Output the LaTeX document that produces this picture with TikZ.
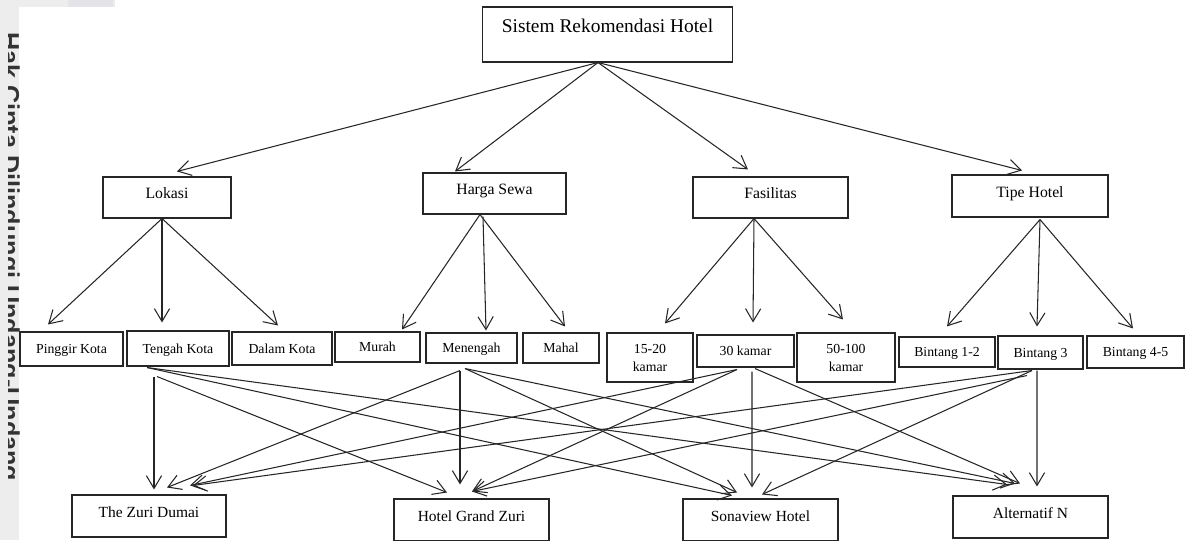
\documentclass[tikz,border=0pt]{standalone}
\usepackage{fontspec}
\setmainfont{Liberation Serif}
\newfontfamily\markfont{Liberation Sans}
\usepackage{tikz}
\usetikzlibrary{arrows.meta, calc}
\definecolor{lineGray}{rgb}{0.15, 0.15, 0.15}
\definecolor{stripGray}{rgb}{0.93, 0.93, 0.93}
\definecolor{patchGray}{rgb}{0.89, 0.89, 0.91}
\tikzset{
	box/.style={draw=lineGray, line width=0.75pt, inner sep=0pt, align=center},
	sz/.style 2 args={minimum width=#1*0.025cm, minimum height=#2*0.025cm},
	topfont/.style={font=\fontsize{13.8}{16}\selectfont, text height=10.4pt, text depth=12.6pt},
	catfont/.style={font=\fontsize{11.2}{13}\selectfont, text height=8.3pt, text depth=6.8pt},
	subfont/.style={font=\fontsize{9.8}{12.8}\selectfont, text height=7.4pt, text depth=0.9pt},
	twofont/.style={font=\fontsize{9.8}{12.8}\selectfont},
	altfont/.style={font=\fontsize{11}{13}\selectfont, text height=8.2pt, text depth=6.7pt},
	arr/.style={draw=lineGray, line width=0.75pt, -{Straight Barb[length=3.2mm, width=3.8mm]}}
}

\begin{document}
\begin{tikzpicture}[x=0.025cm, y=-0.025cm]

	\useasboundingbox (0,0) rectangle (1185,540);

	% page edge with watermark
	\fill[stripGray] (0,0) rectangle (19,540);
	\fill[stripGray] (0,0) rectangle (115,7);
	\fill[patchGray] (68,0) rectangle (113,7);
	\begin{scope}
		\clip (8,0) rectangle (19,540);
		\node[anchor=base west, rotate=-90, inner sep=0pt, text=black!80, font=\markfont\bfseries\fontsize{17.9}{21}\selectfont] (mark) at (1.5,32) {Hak Cipta Dilindungi Undang-Undang};
	\end{scope}

	\node[box, sz={250}{55}, topfont] (top) at (607.5,34.5) {Sistem Rekomendasi Hotel};

	\node[box, sz={128}{41}, catfont] (lok) at (167,197.5) {Lokasi};
	\node[box, sz={143}{41}, catfont] (harga) at (494.5,193.5) {Harga Sewa};
	\node[box, sz={155}{41}, catfont] (fas) at (770.5,197.5) {Fasilitas};
	\node[box, sz={156}{42}, catfont] (tipe) at (1030,196) {Tipe Hotel};

	\node[box, sz={103}{34}, subfont] (pinggir) at (71.5,349) {Pinggir Kota};
	\node[box, sz={102}{35}, subfont] (tengah) at (178,348.5) {Tengah Kota};
	\node[box, sz={100}{33}, subfont] (dalam) at (282,348.5) {Dalam Kota};
	\node[box, sz={85}{30}, subfont] (murah) at (377.5,347) {Murah};
	\node[box, sz={91}{30}, subfont] (menengah) at (471.5,348) {Menengah};
	\node[box, sz={76}{30}, subfont] (mahal) at (561,348) {Mahal};
	\node[box, sz={86}{49}, twofont] (kamarA) at (650,357.5) {15-20\\kamar};
	\node[box, sz={97}{32}, subfont] (kamarB) at (745.5,351) {30 kamar};
	\node[box, sz={98}{49}, twofont] (kamarC) at (846,357.5) {50-100\\kamar};
	\node[box, sz={96}{30}, subfont] (bintangA) at (947,352) {Bintang 1-2};
	\node[box, sz={85}{33}, subfont] (bintangB) at (1040.5,352.5) {Bintang 3};
	\node[box, sz={97}{32}, subfont] (bintangC) at (1135.5,352) {Bintang 4-5};

	\node[box, sz={154}{42}, altfont] (zuri) at (149,516) {The Zuri Dumai};
	\node[box, sz={155}{42}, altfont] (grand) at (471.5,520) {Hotel Grand Zuri};
	\node[box, sz={155}{42}, altfont] (sona) at (760.5,520) {Sonaview Hotel};
	\node[box, sz={155}{42}, altfont] (alt) at (1030.5,517) {Alternatif N};

	% criteria
	\draw[arr] ($(top.south)+(-9.5,0)$) -- ($(lok.north)+(10,-5)$);
	\draw[arr] ($(top.south)+(-9.5,0)$) -- ($(harga.north)+(-39.5,-1)$);
	\draw[arr] ($(top.south)+(-9.5,0)$) -- ($(fas.north)+(-22.5,-7)$);
	\draw[arr] ($(top.south)+(-9.5,0)$) -- ($(tipe.north)+(-8,-4)$);

	% sub criteria
	\draw[arr] ($(lok.south)+(-5,0)$) -- ($(pinggir.north)+(-23.5,-7)$);
	\draw[arr] ($(lok.south)+(-5,0)$) -- ($(tengah.north)+(-16,-8)$);
	\draw[arr] ($(lok.south)+(-5,0)$) -- ($(dalam.north)+(-4,-6)$);
	\draw[arr] ($(harga.south)+(-14.5,0)$) -- ($(murah.north)+(24.5,-2)$);
	\draw[arr] ($(harga.south)+(-11.5,2)$) -- ($(menengah.north)+(14.5,-2)$);
	\draw[arr] ($(harga.south)+(-14.5,0)$) -- ($(mahal.north)+(4,-6)$);
	\draw[arr] ($(fas.south)+(-16.5,0)$) -- ($(kamarA.north)+(15,-9)$);
	\draw[arr] ($(fas.south)+(-16.5,0)$) -- ($(kamarB.north)+(7.5,-12)$);
	\draw[arr] ($(fas.south)+(-16.5,0)$) -- ($(kamarC.north)+(-3,-13)$);
	\draw[arr] ($(tipe.south)+(10,2)$) -- ($(bintangA.north)+(0,-10)$);
	\draw[arr] ($(tipe.south)+(10,2)$) -- ($(bintangB.north)+(-3.5,-9)$);
	\draw[arr] ($(tipe.south)+(10,2)$) -- ($(bintangC.north)+(-2.5,-7)$);

	% alternatives
	\draw[arr] ($(tengah.south)+(-24,10)$) -- ($(zuri.north)+(5,-5)$);
	\draw[arr] ($(tengah.south)+(-21,10)$) -- ($(grand.north)+(-24.5,-6)$);
	\draw[arr] ($(tengah.south)+(-31,1)$) -- ($(sona.north)+(-28.5,-3)$);
	\draw[arr] ($(tengah.south)+(-31,1)$) -- ($(alt.north)+(-23.5,-11)$);

	\draw[arr] ($(menengah.south)+(-11.5,7)$) -- ($(zuri.north)+(18,-7)$);
	\draw[arr] ($(menengah.south)+(-11.5,7)$) -- ($(grand.north)+(-11.5,-14)$);
	\draw[arr] ($(menengah.south)+(-6.5,5)$) -- ($(sona.north)+(-23.5,-6)$);
	\draw[arr] ($(menengah.south)+(-6.5,5)$) -- ($(alt.north)+(-15.5,-12)$);

	\draw[arr] ($(kamarB.south)+(-8.5,2)$) -- ($(zuri.north)+(41,-9)$);
	\draw[arr] ($(kamarB.south)+(-8.5,2)$) -- ($(grand.north)+(0.5,-7)$);
	\draw[arr] ($(kamarB.south)+(6.5,4)$) -- ($(sona.north)+(-8.5,-11)$);
	\draw[arr] ($(kamarB.south)+(9.5,1)$) -- ($(alt.north)+(-10.5,-12)$);

	\draw[arr] ($(bintangB.south)+(-8.5,1)$) -- ($(zuri.north)+(44,-9)$);
	\draw[arr] ($(bintangB.south)+(-13.5,6)$) -- ($(grand.north)+(0.5,-7)$);
	\draw[arr] ($(bintangB.south)+(-8.5,1)$) -- ($(sona.north)+(1.5,-4)$);
	\draw[arr] ($(bintangB.south)+(-3.5,1)$) -- ($(alt.north)+(6.5,-9)$);

\end{tikzpicture}
\end{document}
